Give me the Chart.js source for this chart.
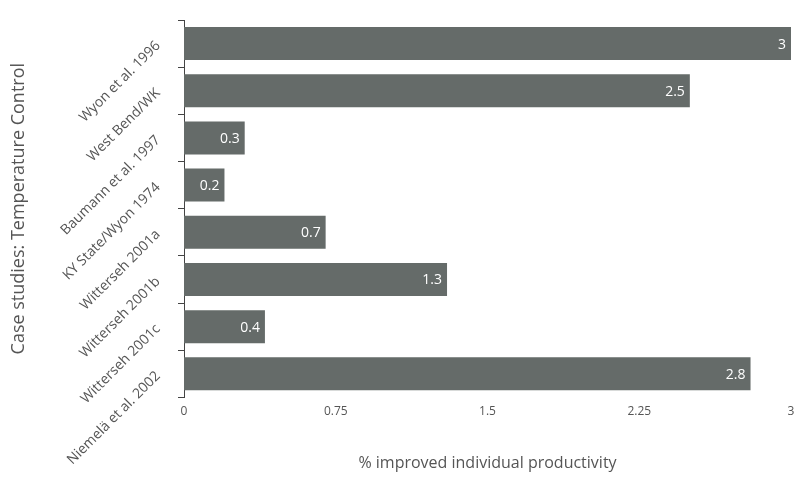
<!DOCTYPE html>
<html>
<head>
<meta charset="utf-8">
<script src="https://cdn.jsdelivr.net/npm/chart.js@4/dist/chart.umd.min.js"></script>
<style>
  html, body { margin: 0; padding: 0; background: #ffffff; }
  #wrap { width: 798px; height: 488px; }
</style>
</head>
<body>
<div id="wrap"><canvas id="c" width="798" height="488"></canvas></div>
<script>
// Case studies and the measured productivity gain for each
const studies = [
  "Wyon et al. 1996",
  "West Bend/WK",
  "Baumann et al. 1997",
  "KY State/Wyon 1974",
  "Witterseh 2001a",
  "Witterseh 2001b",
  "Witterseh 2001c",
  "Niemelä et al. 2002"
];
const improvement = [3, 2.5, 0.3, 0.2, 0.7, 1.3, 0.4, 2.8];
const xTicks = [0, 0.75, 1.5, 2.25, 3];

const FONT = "'Open Sans', 'Liberation Sans', sans-serif";
const TEXT = "#555555";

// Writes each bar's value inside its right end
const valueLabels = {
  id: "valueLabels",
  afterDatasetsDraw(chart) {
    const ctx = chart.ctx;
    const meta = chart.getDatasetMeta(0);
    ctx.save();
    ctx.font = "14px " + FONT;
    ctx.fillStyle = "#ffffff";
    ctx.textAlign = "right";
    ctx.textBaseline = "middle";
    meta.data.forEach((bar, i) => {
      ctx.fillText(String(improvement[i]), bar.x - 5, bar.y + 1);
    });
    ctx.restore();
  }
};

new Chart(document.getElementById("c"), {
  type: "bar",
  data: {
    labels: studies,
    datasets: [{
      data: improvement,
      backgroundColor: "#656b69",
      borderWidth: 0,
      barPercentage: 0.7,
      categoryPercentage: 1
    }]
  },
  options: {
    indexAxis: "y",
    responsive: false,
    animation: false,
    layout: { padding: { top: 20, right: 7, bottom: 9, left: 4 } },
    plugins: { legend: { display: false }, tooltip: { enabled: false } },
    scales: {
      x: {
        type: "linear",
        min: 0,
        max: 3,
        afterBuildTicks(scale) { scale.ticks = xTicks.map(v => ({ value: v })); },
        grid: { display: false, drawTicks: false },
        border: { display: false },
        ticks: {
          padding: 7,
          color: TEXT,
          font: { family: FONT, size: 12 },
          callback: v => String(v)
        },
        title: {
          display: true,
          text: "% improved individual productivity",
          color: TEXT,
          font: { family: FONT, size: 16 },
          padding: { top: 28, bottom: 6 }
        },
        afterFit(scale) {
          // the last tick label may run past the right edge
          scale.paddingRight = 0;
          scale.paddingLeft = 0;
        }
      },
      y: {
        grid: { display: true, drawOnChartArea: false, tickLength: 6, color: "#444444", offset: true },
        border: { display: true, color: "#444444", width: 1 },
        ticks: {
          minRotation: 45,
          maxRotation: 45,
          padding: 20,
          color: TEXT,
          font: { family: FONT, size: 14 }
        },
        title: {
          display: true,
          text: "Case studies: Temperature Control",
          color: TEXT,
          font: { family: FONT, size: 18 },
          padding: { top: 4, bottom: 4 }
        },
        afterFit(scale) {
          scale.width = 180;
          // rotated labels may overhang the plot; let them
          scale.paddingTop = 0;
          scale.paddingBottom = 0;
        }
      }
    }
  },
  plugins: [valueLabels]
});
</script>
</body>
</html>
